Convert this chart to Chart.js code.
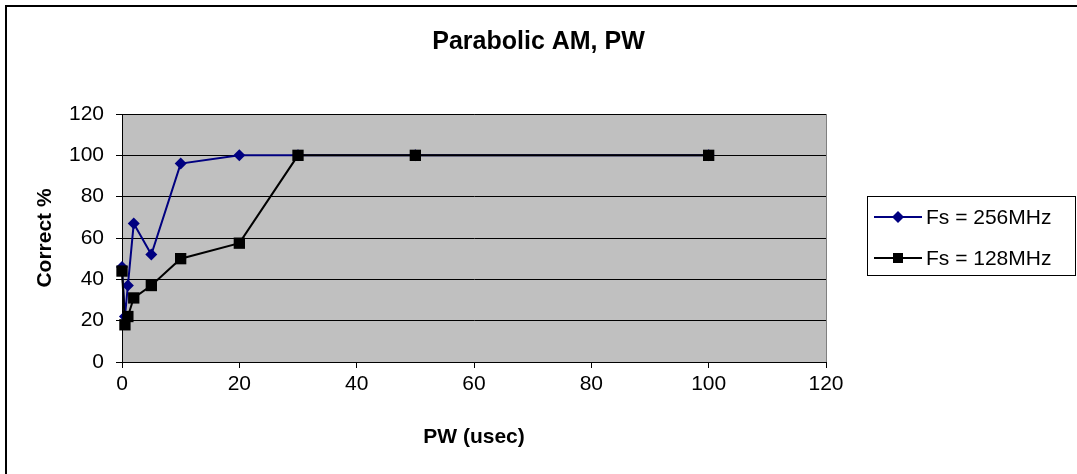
<!DOCTYPE html>
<html lang="en">
<head>
    <meta charset="UTF-8">
    <title>Parabolic AM, PW</title>
    <style>
        body { margin: 0; background: #fff; }
        #wrap { width: 1077px; height: 474px; }
    </style>
</head>
<body>
    <div id="wrap"><canvas id="chart" width="1077" height="474"></canvas></div>

    <script src="https://cdn.jsdelivr.net/npm/chart.js"></script>
    <script>
        // pulse width in usec
        const pw = [0, 0.5, 1, 2, 5, 10, 20, 30, 50, 100];
        const fs256 = [46, 22, 37, 67, 52, 96, 100, 100, 100, 100];
        const fs128 = [44, 18, 22, 31, 37, 50, 57.5, 100, 100, 100];
        const seriesNames = ['Fs = 256MHz', 'Fs = 128MHz'];
        const xTicks = [0, 20, 40, 60, 80, 100, 120];
        const yTicks = [0, 20, 40, 60, 80, 100, 120];

        const font = 'Liberation Sans, Arial, sans-serif';

        function pairs(xs, ys) {
            return xs.map((x, i) => ({ x: x, y: ys[i] }));
        }

        // grey plot area, outer frame and the boxed legend
        const excelLook = {
            id: 'excelLook',
            beforeDraw(chart) {
                const { ctx, chartArea: a } = chart;
                ctx.save();
                ctx.fillStyle = '#c0c0c0';
                ctx.fillRect(a.left, a.top, a.right - a.left, a.bottom - a.top);
                ctx.strokeStyle = '#808080';
                ctx.lineWidth = 1;
                ctx.strokeRect(a.left + 0.5, a.top + 0.5, a.right - a.left, a.bottom - a.top);
                // outer frame (only top and left are in view)
                ctx.strokeStyle = '#000';
                ctx.lineWidth = 2;
                ctx.beginPath();
                ctx.moveTo(6, 474);
                ctx.lineTo(6, 6);
                ctx.lineTo(1077, 6);
                ctx.stroke();
                ctx.restore();
            },
            afterDraw(chart) {
                const ctx = chart.ctx;
                ctx.save();
                ctx.strokeStyle = '#000';
                ctx.lineWidth = 1;
                ctx.strokeRect(867.5, 196.5, 208, 79);
                ctx.font = '21px ' + font;
                ctx.textBaseline = 'middle';
                const rows = [217, 258];
                chart.data.datasets.forEach((ds, i) => {
                    const y = rows[i];
                    ctx.strokeStyle = ds.borderColor;
                    ctx.lineWidth = 2;
                    ctx.beginPath();
                    ctx.moveTo(874, y);
                    ctx.lineTo(922, y);
                    ctx.stroke();
                    ctx.fillStyle = ds.backgroundColor;
                    ctx.beginPath();
                    if (ds.pointStyle === 'rectRot') {
                        ctx.moveTo(898, y - 6);
                        ctx.lineTo(904, y);
                        ctx.lineTo(898, y + 6);
                        ctx.lineTo(892, y);
                        ctx.closePath();
                    } else {
                        ctx.rect(893, y - 5, 10, 10);
                    }
                    ctx.fill();
                    ctx.fillStyle = '#000';
                    ctx.fillText(ds.label, 926, y + 1);
                });
                ctx.restore();
            }
        };

        new Chart(document.getElementById('chart'), {
            type: 'scatter',
            data: {
                datasets: [
                    {
                        label: seriesNames[0],
                        data: pairs(pw, fs256),
                        showLine: true,
                        borderColor: '#000080',
                        backgroundColor: '#000080',
                        borderWidth: 2,
                        pointStyle: 'rectRot',
                        pointRadius: 6,
                        pointBorderWidth: 0,
                        order: 1,
                        clip: false
                    },
                    {
                        label: seriesNames[1],
                        data: pairs(pw, fs128),
                        showLine: true,
                        borderColor: '#000000',
                        backgroundColor: '#000000',
                        borderWidth: 2,
                        pointStyle: 'rect',
                        pointRadius: 8,
                        pointBorderWidth: 0,
                        order: 0,
                        clip: false
                    }
                ]
            },
            options: {
                responsive: false,
                animation: false,
                events: [],
                layout: { padding: 0 },
                plugins: {
                    legend: { display: false },
                    tooltip: { enabled: false },
                    title: {
                        display: true,
                        text: 'Parabolic AM, PW',
                        color: '#000',
                        font: { family: font, size: 25, weight: 'bold' },
                        padding: { top: 27, bottom: 57 }
                    }
                },
                scales: {
                    x: {
                        type: 'linear',
                        min: 0,
                        max: 120,
                        afterFit(scale) { scale.height = 112; },
                        afterBuildTicks(scale) { scale.ticks = xTicks.map(v => ({ value: v })); },
                        ticks: { color: '#000', padding: 4, font: { family: font, size: 21 } },
                        grid: { drawOnChartArea: false, drawTicks: true, tickLength: 6, color: '#000' },
                        border: { color: '#000', width: 1 },
                        title: {
                            display: true,
                            text: 'PW (usec)',
                            color: '#000',
                            font: { family: font, size: 21, weight: 'bold' },
                            padding: { top: 0, bottom: 24.4 }
                        }
                    },
                    y: {
                        min: 0,
                        max: 120,
                        afterFit(scale) { scale.width = 122; },
                        afterBuildTicks(scale) { scale.ticks = yTicks.map(v => ({ value: v })); },
                        ticks: { color: '#000', padding: 12, font: { family: font, size: 21 } },
                        grid: { color: '#000', lineWidth: 1, drawTicks: true, tickLength: 6 },
                        border: { color: '#000', width: 1 },
                        title: {
                            display: true,
                            text: 'Correct %',
                            color: '#000',
                            font: { family: font, size: 21, weight: 'bold' },
                            padding: { top: 32.4, bottom: 0 }
                        }
                    },
                    // empty right-hand strip that leaves room for the legend box
                    side: {
                        position: 'right',
                        min: 0,
                        max: 1,
                        afterFit(scale) { scale.width = 251; },
                        ticks: { display: false },
                        grid: { display: false },
                        border: { display: false }
                    }
                }
            },
            plugins: [excelLook]
        });
    </script>
</body>
</html>
